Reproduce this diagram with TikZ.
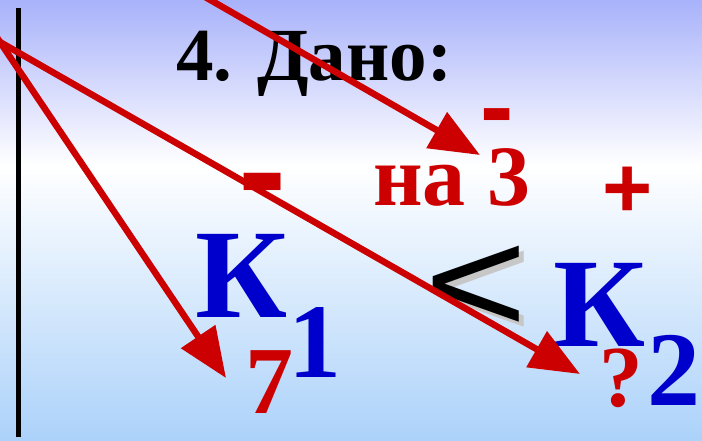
\documentclass[tikz,border=0pt]{standalone}
\usepackage{fontspec}
\setmainfont{Liberation Serif}
\newfontfamily\sansf{Liberation Sans}
\usetikzlibrary{arrows.meta}
\definecolor{myred}{RGB}{204,0,0}
\definecolor{myblue}{RGB}{0,0,204}
\definecolor{bgtop}{RGB}{168,178,250}
\definecolor{bgbot}{RGB}{172,210,250}
\begin{document}
\begin{tikzpicture}[x=1pt,y=-1pt,
  txt/.style={anchor=base west, inner sep=0pt, outer sep=0pt},
  fs/.style={font=\bfseries\fontsize{#1}{#1}\selectfont},
  sfs/.style={font=\sansf\bfseries\fontsize{#1}{#1}\selectfont},
  ltstyle/.style={txt, font=\sansf\fontsize{150}{150}\selectfont, xscale=1.18},
  arr/.style={draw=myred, line width=6.5pt, -{Triangle[length=50pt,width=40pt]}}]
\useasboundingbox (0,0) rectangle (702,440);
\shade[top color=bgtop, bottom color=white] (0,0) rectangle (702,165);
\shade[top color=white, bottom color=bgbot] (0,165) rectangle (702,440);
\draw[line width=5.5pt] (18.3,8) -- (18.3,437);
% texts
\node[txt, fs=75] (title) at (176,80) {4. Дано:};
\node[txt, fs=86, text=myred] (na3) at (373,205) {на 3};
\node[txt, sfs=100, text=myred] (m1) at (480.5,140.5) {-};
\node[txt, sfs=145, text=myred] (m2) at (238.5,219.5) {-};
\node[txt, sfs=86, text=myred] (plus) at (602.6,217) {+};
\node[txt, fs=127, text=myblue] (k1) at (195,317) {К};
\node[txt, fs=106, text=myblue] (one) at (288,377) {1};
\node[txt, fs=96, text=myred] (seven) at (245,413) {7};
\node[txt, fs=127, text=myblue] (k2) at (553,346) {К};
\node[txt, fs=106, text=myblue] (two) at (647,405) {2};
\node[txt, fs=87, text=myred] (q) at (599,406) {?};
\node[ltstyle, text=black!22] (ltsh) at (429,338) {<};
\node[ltstyle] (lt) at (424,333) {<};
% arrows
\begin{scope}
\clip (0,0) rectangle (702,440);
\coordinate (o1) at (-5,34.6);
\coordinate (o2) at (-10,36.3);
\coordinate (o3) at (193,-10);
\coordinate (t1) at (226,378);
\coordinate (t2) at (580,374);
\coordinate (t3) at (480,155);
\draw[arr] (o1) -- (t1);
\draw[arr] (o2) -- (t2);
\draw[arr] (o3) -- (t3);
\end{scope}
\end{tikzpicture}
\end{document}
